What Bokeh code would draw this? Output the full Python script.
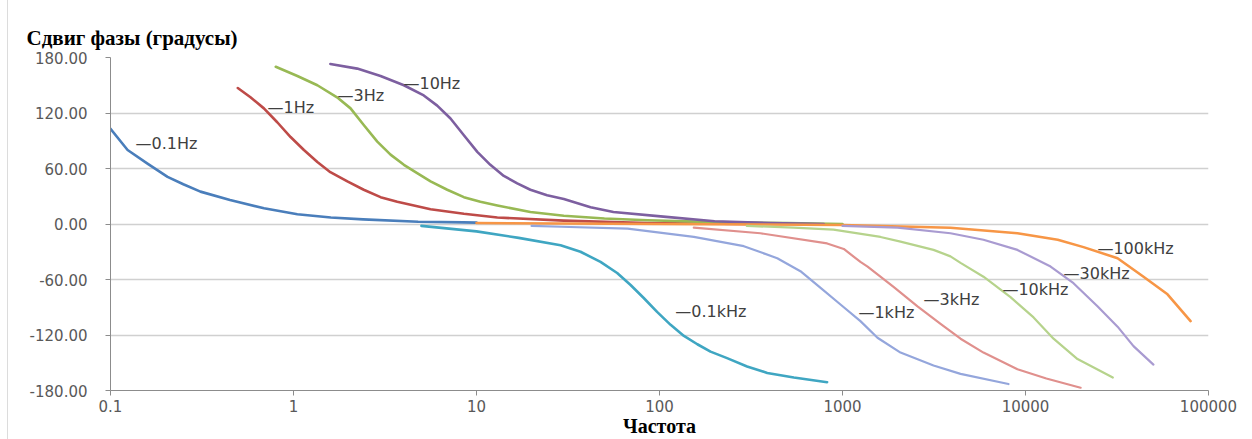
from bokeh.plotting import figure
from bokeh.models import FixedTicker, Range1d
from bokeh.core.properties import value
from bokeh.embed import file_html
from bokeh.resources import INLINE

# ---------------- data ----------------
title_text = "Сдвиг фазы (градусы)"
x_title = "Частота"

x_ticks = [0.1, 1, 10, 100, 1000, 10000, 100000]
x_tick_labels = ["0.1", "1", "10", "100", "1000", "10000", "100000"]
y_ticks = [-180, -120, -60, 0, 60, 120, 180]
y_tick_labels = ["-180.00", "-120.00", "-60.00", "0.00", "60.00", "120.00", "180.00"]

f_0_1hz = [0.1, 0.124, 0.16, 0.205, 0.25, 0.31, 0.45, 0.69, 1.05, 1.6, 2.4, 4.8, 8.5, 10]
ph_0_1hz = [103, 80, 65, 51, 43, 35, 26, 17, 10.5, 7, 5, 2.5, 1.8, 1.5]

f_1hz = [0.496, 0.582, 0.689, 0.815, 0.964, 1.14, 1.35, 1.59, 1.97, 2.42, 2.99, 3.69,
         5.61, 8.53, 13, 30, 86, 300]
ph_1hz = [147, 137, 125, 110, 94, 80, 67, 56, 46, 37, 29, 24, 16, 11, 7, 3.6, 1, 0]

f_3hz = [0.8, 1.05, 1.35, 1.73, 2.05, 2.42, 2.87, 3.39, 4.01, 4.74, 5.61, 6.92, 8.53,
         10.5, 13, 19.7, 30, 50, 86, 200, 500, 1000]
ph_3hz = [170, 160, 150, 137, 125, 107, 89, 75, 64, 55, 46, 37, 29, 24, 20, 13, 9, 6,
          4, 2, 1, 0]

f_10hz = [1.59, 2.23, 2.99, 4.01, 5.15, 6.1, 7.21, 8.53, 10.1, 11.9, 14.1, 16.7, 19.7,
          24.3, 30, 42, 56, 105, 200, 400, 790]
ph_10hz = [173, 168, 160, 150, 139, 128, 114, 96, 78, 64, 52, 44, 37, 31, 27, 18, 13,
           8, 3, 1, 0]

f_0_1khz = [5, 10, 17, 28.8, 37, 47.6, 58.7, 69.5, 82, 97, 115, 136, 161, 190, 234,
            301, 388, 542, 824]
ph_0_1khz = [-2, -8, -15, -23, -30, -41, -53, -66, -80, -95, -109, -121, -130, -138,
             -145, -154, -161, -166, -171]

f_100khz = [10, 100, 1000, 3890, 9036, 15000, 20750, 31850, 44150, 59700, 79800]
ph_100khz = [1, 0, -1, -4, -10, -17, -25, -37, -57, -76, -105]

f_1khz = [20, 29, 67, 154, 289, 440, 589, 759, 975, 1253, 1553, 2075, 3143, 4416, 8070]
ph_1khz = [-2, -3, -5, -14, -24, -37, -51, -69, -87, -105, -123, -139, -153, -162, -173]

f_3khz = [154, 356, 824, 1016, 1253, 1371, 1901, 2570, 3434, 4416, 5893, 9036, 13000,
          20000]
ph_3khz = [-4, -10, -21, -27, -41, -46, -68, -89, -108, -124, -139, -157, -167, -177]

f_10khz = [300, 540, 893, 1614, 2075, 3143, 3890, 4416, 5893, 8280, 11070, 14230,
           19240, 30000]
ph_10khz = [-2, -4, -6, -14, -19, -28, -35, -42, -57, -79, -101, -124, -146, -166]

f_30khz = [1000, 2000, 3890, 5893, 9036, 13710, 18290, 24730, 31850, 38910, 50000]
ph_30khz = [-2, -4, -10, -17, -28, -46, -64, -89, -111, -132, -152]

series_names = ["0.1Hz", "1Hz", "3Hz", "10Hz", "0.1kHz", "100kHz", "1kHz", "3kHz",
                "10kHz", "30kHz"]
series_f = [f_0_1hz, f_1hz, f_3hz, f_10hz, f_0_1khz, f_100khz, f_1khz, f_3khz,
            f_10khz, f_30khz]
series_ph = [ph_0_1hz, ph_1hz, ph_3hz, ph_10hz, ph_0_1khz, ph_100khz, ph_1khz,
             ph_3khz, ph_10khz, ph_30khz]

# data-label anchors (left edge of each label)
label_f = [0.137, 0.721, 1.74, 3.99, 122, 24720, 1222, 2773, 7480, 16150]
label_ph = [87, 126, 139, 152, -95, -27, -96, -82, -71, -53]

# ---------------- styling ----------------
colors = ["#4a7ebb", "#be4b48", "#98b954", "#7d5fa0", "#3fa6c2", "#f79646",
          "#94a6dc", "#e0908d", "#b6d38c", "#a99bd1"]
widths = [2.6, 2.6, 2.6, 2.6, 2.6, 2.6, 2.2, 2.2, 2.2, 2.2]

p = figure(width=1244, height=439, x_axis_type="log",
           x_range=Range1d(0.1, 100000), y_range=Range1d(-180, 180),
           output_backend="svg", toolbar_location=None,
           min_border_left=102, min_border_right=44,
           min_border_top=57, min_border_bottom=48)
p.styles = {"margin-left": "7px", "border-left": "1px solid #dcdcdc"}
p.outline_line_color = None
p.background_fill_color = "white"
p.border_fill_color = "white"

p.title.text = title_text
p.title.align = "left"
p.title.offset = -84
p.title.text_font = "Liberation Serif"
p.title.text_font_style = "bold"
p.title.text_font_size = "21px"
p.title.text_color = "black"
p.title.standoff = 16

for f, ph, c, w in zip(series_f, series_ph, colors, widths):
    p.line(f, ph, line_color=c, line_width=w, line_join="round", line_cap="round")

p.text(x=label_f, y=label_ph, text=["\u2014" + n for n in series_names],
       text_align="left", text_baseline="middle",
       text_font=value("DejaVu Sans"), text_font_size="16px", text_color="#404040")

p.xaxis.ticker = FixedTicker(ticks=x_ticks)
p.xaxis.major_label_overrides = dict(zip(x_ticks, x_tick_labels))
p.yaxis.ticker = FixedTicker(ticks=y_ticks)
p.yaxis.major_label_overrides = dict(zip(y_ticks, y_tick_labels))

for ax in (p.xaxis, p.yaxis):
    ax.axis_line_color = "#8c8c8c"
    ax.axis_line_width = 1
    ax.major_tick_line_color = "#8c8c8c"
    ax.major_tick_out = 5
    ax.major_tick_in = 0
    ax.minor_tick_line_color = None
    ax.major_label_text_font = "DejaVu Sans"
    ax.major_label_text_font_size = "15px"
    ax.major_label_text_color = "#595959"

p.yaxis.major_label_standoff = 18
p.xaxis.major_label_standoff = 4

p.xaxis.axis_label = x_title
p.xaxis.axis_label_text_font = "Liberation Serif"
p.xaxis.axis_label_text_font_style = "bold"
p.xaxis.axis_label_text_font_size = "20px"
p.xaxis.axis_label_text_color = "black"
p.xaxis.axis_label_standoff = 0

p.xgrid.grid_line_color = None
p.ygrid.grid_line_color = "#d0d0d0"
p.ygrid.grid_line_width = 1.5

open("out.html", "w").write(file_html(p, INLINE))
